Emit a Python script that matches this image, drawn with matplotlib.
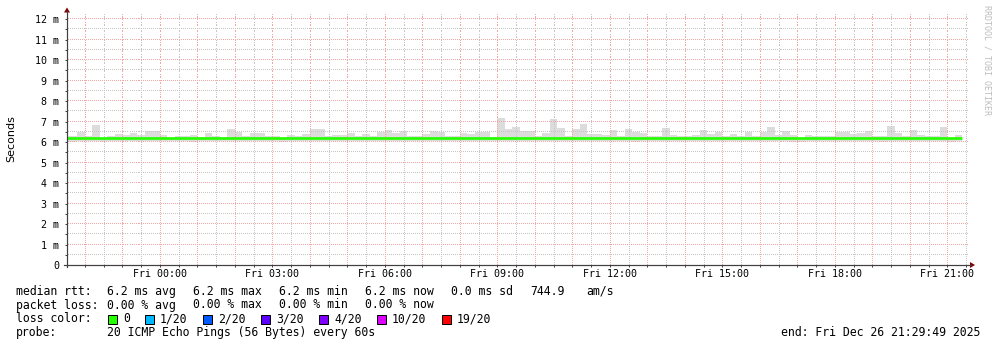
"""plot.py - SmokePing / RRDtool style latency graph over the last 24 hours.

Light gray "smoke" bars are the ping spread for each 12 minute bin, the green
stairs line is the median RTT (loss colour 0). Everything is laid out in pixel
units on a 997x347 canvas, like rrdtool does.
"""

import matplotlib

matplotlib.use("Agg")
import matplotlib.pyplot as plt  # noqa: E402
import numpy as np  # noqa: E402
from matplotlib.patches import Polygon, Rectangle  # noqa: E402
from matplotlib.ticker import FixedFormatter, FixedLocator, MultipleLocator  # noqa: E402

W, H = 997, 347
MONO = "DejaVu Sans Mono"

# ---- data ---------------------------------------------------------------
# bins of 12 minutes, x in hours relative to Fri 00:00
BIN_START = -2.6
BIN_HOURS = 0.2

# upper edge of the smoke (ms)
rtt_max = [
    6.28, 6.29, 6.47, 6.29, 6.84, 6.19, 6.29, 6.40, 6.33, 6.45,
    6.33, 6.53, 6.53, 6.34, 6.21, 6.29, 6.29, 6.34, 6.23, 6.46,
    6.28, 6.27, 6.64, 6.47, 6.32, 6.45, 6.45, 6.31, 6.29, 6.21,
    6.35, 6.29, 6.40, 6.64, 6.64, 6.32, 6.35, 6.35, 6.46, 6.30,
    6.40, 6.32, 6.49, 6.58, 6.43, 6.54, 6.29, 6.29, 6.40, 6.54,
    6.51, 6.32, 6.29, 6.45, 6.40, 6.49, 6.49, 6.23, 7.19, 6.65,
    6.73, 6.54, 6.54, 6.31, 6.44, 7.13, 6.69, 6.31, 6.63, 6.88,
    6.40, 6.40, 6.34, 6.58, 6.29, 6.63, 6.47, 6.44, 6.29, 6.29,
    6.68, 6.34, 6.29, 6.29, 6.33, 6.58, 6.39, 6.49, 6.29, 6.39,
    6.32, 6.48, 6.29, 6.48, 6.73, 6.34, 6.52, 6.34, 6.21, 6.34,
    6.29, 6.29, 6.29, 6.48, 6.48, 6.39, 6.45, 6.53, 6.29, 6.29,
    6.78, 6.45, 6.29, 6.59, 6.33, 6.29, 6.29, 6.73, 6.21, 6.34,
]

# lower edge of the smoke (ms)
rtt_min = [
    6.01, 6.01, 6.06, 6.06, 6.06, 6.01, 6.06, 6.06, 6.06, 6.06,
    6.06, 6.06, 6.06, 6.06, 6.06, 6.06, 6.06, 5.98, 6.06, 6.06,
    6.06, 6.06, 6.06, 6.06, 6.06, 6.06, 6.06, 6.06, 6.06, 6.01,
    6.06, 6.06, 6.06, 6.06, 6.06, 6.05, 6.06, 6.06, 6.06, 6.06,
    6.06, 6.05, 6.06, 6.06, 6.06, 6.06, 6.06, 6.06, 6.06, 6.06,
    6.06, 6.06, 6.06, 6.06, 6.06, 6.06, 6.03, 6.06, 6.06, 6.06,
    6.06, 6.06, 6.06, 6.06, 6.06, 6.06, 6.06, 6.06, 6.06, 6.06,
    6.06, 6.06, 6.06, 6.06, 6.03, 6.06, 6.02, 6.06, 6.06, 6.06,
    6.06, 6.06, 6.06, 6.06, 6.06, 6.06, 6.06, 6.06, 6.06, 6.06,
    6.06, 6.06, 6.06, 6.06, 6.06, 6.06, 6.06, 5.98, 6.00, 6.06,
    6.06, 6.06, 6.06, 6.06, 6.06, 6.06, 6.06, 6.06, 6.06, 6.01,
    6.06, 6.06, 6.06, 6.06, 6.06, 6.06, 6.06, 6.06, 6.02, 6.06,
]

# median rtt (ms)
rtt_median = [
    6.18, 6.18, 6.18, 6.18, 6.18, 6.18, 6.18, 6.18, 6.18, 6.18,
    6.18, 6.18, 6.18, 6.18, 6.18, 6.18, 6.18, 6.18, 6.18, 6.18,
    6.19, 6.19, 6.19, 6.19, 6.19, 6.19, 6.19, 6.19, 6.18, 6.18,
    6.18, 6.18, 6.18, 6.18, 6.18, 6.18, 6.18, 6.18, 6.18, 6.18,
    6.18, 6.18, 6.18, 6.18, 6.18, 6.18, 6.19, 6.19, 6.19, 6.19,
    6.19, 6.19, 6.19, 6.19, 6.19, 6.19, 6.19, 6.19, 6.18, 6.18,
    6.18, 6.18, 6.18, 6.18, 6.19, 6.19, 6.19, 6.18, 6.18, 6.18,
    6.18, 6.18, 6.18, 6.18, 6.18, 6.18, 6.18, 6.18, 6.18, 6.18,
    6.18, 6.18, 6.18, 6.18, 6.18, 6.18, 6.18, 6.18, 6.18, 6.18,
    6.18, 6.18, 6.18, 6.18, 6.18, 6.18, 6.18, 6.18, 6.18, 6.18,
    6.18, 6.18, 6.18, 6.18, 6.18, 6.18, 6.18, 6.18, 6.18, 6.18,
    6.18, 6.18, 6.18, 6.18, 6.18, 6.18, 6.18, 6.18, 6.18, 6.18,
]

x_range = (-2.48, 21.55)          # hours, Thu 21:31 .. Fri 21:33
hour_ticks = [0, 3, 6, 9, 12, 15, 18, 21]
hour_labels = ["Fri 00:00", "Fri 03:00", "Fri 06:00", "Fri 09:00",
               "Fri 12:00", "Fri 15:00", "Fri 18:00", "Fri 21:00"]
ms_ticks = [0, 1, 2, 3, 4, 5, 6, 7, 8, 9, 10, 11, 12]
ms_labels = ["0", "1 m", "2 m", "3 m", "4 m", "5 m", "6 m", "7 m",
             "8 m", "9 m", "10 m", "11 m", "12 m"]

rtt_stats = ["6.2 ms avg", "6.2 ms max", "6.2 ms min", "6.2 ms now", "0.0 ms sd"]
rtt_extra = ["744.9", "am/s"]
loss_stats = ["0.00 % avg", "0.00 % max", "0.00 % min", "0.00 % now"]
loss_labels = ["0", "1/20", "2/20", "3/20", "4/20", "10/20", "19/20"]
loss_colors = ["#26ff00", "#00b8ff", "#0059ff", "#5e00ff",
               "#7e00ff", "#dd00ff", "#ff0000"]
probe_text = "20 ICMP Echo Pings (56 Bytes) every 60s"
end_text = "end: Fri Dec 26 21:29:49 2025"

# ---- layout (pixels) ------------------------------------------------------
PLOT_L, PLOT_R, PLOT_T, PLOT_B = 67, 968, 13, 265
Y_TOP = 12.3
SMOKE = "#dcdcdc"
AXIS = "#404040"
ARROW = "#800000"
MGRID = "#f2a6a6"
GRID = "#c6c6c6"
PX = 0.72  # one pixel in points at 100 dpi


def dotted_lines(ax, positions, vertical, color):
    """rrdtool-like 1px-on/1px-off grid lines built from single pixels."""
    x0, x1 = ax.get_xlim()
    y0, y1 = ax.get_ylim()
    if vertical:
        step = 2 * (y1 - y0) / (PLOT_B - PLOT_T)
        run = np.arange(y0 + step / 4, y1, step)
        for p in positions:
            ax.plot(np.full_like(run, p), run, linestyle="none", marker=",",
                    color=color, zorder=2)
    else:
        step = 2 * (x1 - x0) / (PLOT_R - PLOT_L)
        run = np.arange(x0 + step / 4, x1, step)
        for p in positions:
            ax.plot(run, np.full_like(run, p), linestyle="none", marker=",",
                    color=color, zorder=2)


def draw_graph(fig):
    ax = fig.add_axes([PLOT_L / W, 1 - PLOT_B / H,
                       (PLOT_R - PLOT_L) / W, (PLOT_B - PLOT_T) / H])
    ax.set_xlim(*x_range)
    ax.set_ylim(0, Y_TOP)
    for s in ax.spines.values():
        s.set_visible(False)

    n = len(rtt_max)
    edges = BIN_START + BIN_HOURS * np.arange(n + 1)
    lo = np.array(rtt_min)
    hi = np.array(rtt_max)
    ax.bar(edges[:-1], hi - lo, bottom=lo, width=BIN_HOURS, align="edge",
           color=SMOKE, linewidth=0, zorder=1)
    ax.stairs(rtt_median, edges, color=loss_colors[0], linewidth=2.7 * PX,
              baseline=None, zorder=3)

    # every hour gets a major grid line / tick, only every third one a label
    hours = np.arange(-2, 22)
    ax.xaxis.set_major_locator(FixedLocator(hours))
    ax.xaxis.set_major_formatter(FixedFormatter(
        [hour_labels[hour_ticks.index(h)] if h in hour_ticks else "" for h in hours]))
    ax.xaxis.set_minor_locator(MultipleLocator(0.5))
    ax.set_yticks(ms_ticks, ms_labels)
    ax.yaxis.set_minor_locator(MultipleLocator(0.5))

    half_hours = [h + 0.5 for h in np.arange(-3, 22) if x_range[0] < h + 0.5 < x_range[1]]
    half_ms = [m + 0.5 for m in ms_ticks if m + 0.5 < Y_TOP]
    dotted_lines(ax, half_hours, True, GRID)
    dotted_lines(ax, half_ms, False, GRID)
    dotted_lines(ax, hours, True, MGRID)
    dotted_lines(ax, ms_ticks[1:], False, MGRID)

    ax.tick_params(which="both", direction="out", length=2 * PX, width=PX,
                   color=AXIS, labelsize=7.2, labelcolor="black")
    ax.tick_params(axis="x", pad=1.5)
    ax.tick_params(axis="y", pad=4.0)
    for lab in ax.get_xticklabels() + ax.get_yticklabels():
        lab.set_family(MONO)
    return ax


def draw_overlay(fig):
    """Pixel-space layer for axis arrows, legend and watermark."""
    ov = fig.add_axes([0, 0, 1, 1])
    ov.set_xlim(0, W)
    ov.set_ylim(H, 0)
    ov.axis("off")

    # axes with arrow heads
    ov.plot([PLOT_L, PLOT_L], [PLOT_B + 2, 11], color=AXIS, linewidth=PX * 1.2)
    ov.plot([PLOT_L - 3, 971], [PLOT_B, PLOT_B], color=AXIS, linewidth=PX * 1.2)
    ov.add_patch(Polygon([[PLOT_L, 7.5], [PLOT_L - 3, 12.5], [PLOT_L + 3, 12.5]],
                         closed=True, color=ARROW, linewidth=0))
    ov.add_patch(Polygon([[975, PLOT_B], [970, PLOT_B - 3], [970, PLOT_B + 3]],
                         closed=True, color=ARROW, linewidth=0))

    ov.text(11, 139, "Seconds", rotation=90, ha="center", va="center",
            fontsize=8, family="DejaVu Sans")
    ov.text(987, 5, "RRDTOOL / TOBI OETIKER", rotation=270, ha="center", va="top",
            fontsize=6, family=MONO, color="#bdbdbd")

    txt = dict(fontsize=8.3, family=MONO, va="baseline", ha="left")
    cols = [107, 193, 279, 365, 451]

    ov.text(16, 295, "median rtt:", **txt)
    for x, s in zip(cols, rtt_stats):
        ov.text(x, 295, s, **txt)
    ov.text(530, 295, rtt_extra[0], **txt)
    ov.text(586, 295, rtt_extra[1], **txt)

    ov.text(16, 308.5, "packet loss:", **txt)
    for x, s in zip(cols, loss_stats):
        ov.text(x, 308.5, s, **txt)

    ov.text(16, 322.5, "loss color:", **txt)
    x = 108
    for lab, col in zip(loss_labels, loss_colors):
        ov.add_patch(Rectangle((x, 315), 8.5, 8.5, facecolor=col,
                               edgecolor="black", linewidth=PX))
        ov.text(x + 15, 322.5, lab, **txt)
        x += 15 + 7 * len(lab) + 15

    ov.text(16, 336, "probe:", **txt)
    ov.text(107, 336, probe_text, **txt)
    ov.text(980, 336, end_text, **{**txt, "ha": "right"})


def main():
    fig = plt.figure(figsize=(W / 100, H / 100), dpi=100, facecolor="white")
    draw_graph(fig)
    draw_overlay(fig)
    fig.savefig("out.png", dpi=100, facecolor="white")
    plt.close(fig)


if __name__ == "__main__":
    main()
